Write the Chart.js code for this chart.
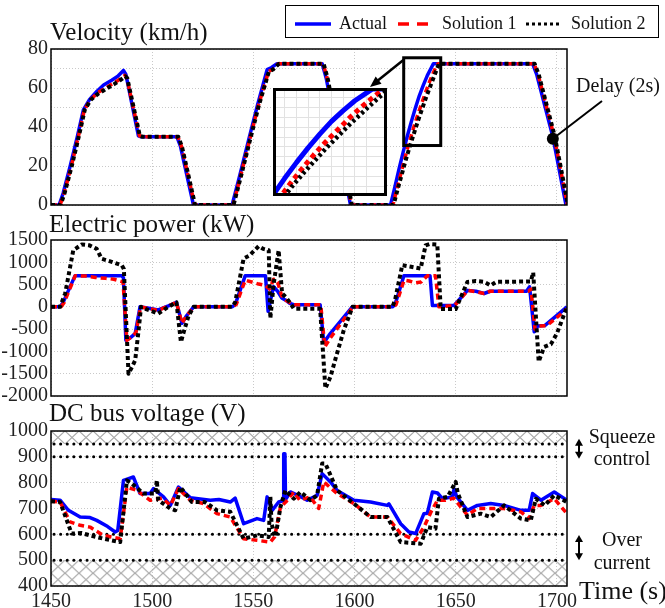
<!DOCTYPE html>
<html>
<head>
<meta charset="utf-8">
<script src="https://cdn.jsdelivr.net/npm/chart.js@4.4.1/dist/chart.umd.min.js"></script>
<style>
  body { margin: 0; background: #fff; }
  #wrap { position: relative; width: 665px; height: 608px; overflow: hidden;
          font-family: 'Liberation Serif', 'Times New Roman', serif; color: #111; }
  canvas { position: absolute; left: 0; }
  .lbl { position: absolute; white-space: nowrap; line-height: 1; }
  #legend { position: absolute; left: 285px; top: 5px; width: 372px; height: 31px;
            border: 1.5px solid #000; background: #fff; }
  #legend svg, #legend span { position: absolute; }
  #legend span { font-size: 18px; line-height: 18px; top: 8px; white-space: nowrap; }
</style>
</head>
<body>
<div id="wrap">
  <canvas id="velChart" width="665" height="215" style="top:0"></canvas>
  <canvas id="powChart" width="665" height="190" style="top:215px"></canvas>
  <canvas id="voltChart" width="665" height="203" style="top:405px"></canvas>
  <canvas id="zoomChart" width="114" height="108" style="left:273px;top:88px"></canvas>

  <div class="lbl" style="left:50px;top:19px;font-size:25px">Velocity (km/h)</div>
  <div class="lbl" style="left:49px;top:211px;font-size:25px">Electric power (kW)</div>
  <div class="lbl" style="left:49px;top:400px;font-size:25px">DC bus voltage (V)</div>
  <div class="lbl" style="left:576px;top:75px;font-size:20px">Delay (2s)</div>
  <div class="lbl" style="left:577px;top:425px;width:90px;text-align:center;font-size:20px;line-height:22px">Squeeze<br>control</div>
  <div class="lbl" style="left:577px;top:528px;width:90px;text-align:center;font-size:20px;line-height:23px">Over<br>current</div>
  <div class="lbl" style="left:579px;top:578px;font-size:26px">Time (s)</div>

  <div id="legend">
    <svg style="left:8px;top:15px" width="38" height="6"><line x1="1" y1="3" x2="37" y2="3" stroke="#0000ff" stroke-width="3.5"/></svg>
    <span style="left:53px">Actual</span>
    <svg style="left:111px;top:15px" width="38" height="6"><line x1="1" y1="3" x2="37" y2="3" stroke="#ff0000" stroke-width="3.5" stroke-dasharray="11,8"/></svg>
    <span style="left:156px">Solution 1</span>
    <svg style="left:239px;top:15px" width="38" height="6"><line x1="1" y1="3" x2="37" y2="3" stroke="#000" stroke-width="3" stroke-dasharray="3,3"/></svg>
    <span style="left:285px">Solution 2</span>
  </div>
</div>

<script>
// ---- data ----
const xTicks = [1450, 1500, 1550, 1600, 1650, 1700];
const xRange = [1450, 1705];

const velGrid = [0, 10, 20, 30, 40, 50, 60, 70, 80];
const velTicks = [0, 20, 40, 60, 80];
const powTicks = [-2000, -1500, -1000, -500, 0, 500, 1000, 1500];
const voltTicks = [400, 500, 600, 700, 800, 900, 1000];
const voltLimits = [500, 600, 900, 950];
const voltBands = [[950, 1000], [400, 500]];
const arrowSpans = [[970, 893], [597, 500]];

// velocity (km/h)
const velActualT = [1450, 1454, 1456, 1459.4, 1463, 1466, 1469, 1472.6, 1476, 1480, 1483, 1485.8, 1487, 1493.2, 1494.5, 1512.2, 1514, 1520.4, 1539.5, 1543, 1547.7, 1552, 1556.8, 1559, 1561.7, 1584, 1586, 1598, 1599, 1617.8, 1620, 1622, 1624, 1626, 1628, 1630, 1632, 1634, 1636, 1638, 1639, 1688, 1690, 1698, 1704.5, 1705.5];
const velActual  = [0, 0, 6, 19.7, 35, 48.8, 54, 58.2, 61.5, 64, 66, 69, 67, 35.5, 35, 35, 30, 0, 0, 14, 33.5, 51, 69.4, 70.5, 72.5, 72.5, 65, 0, 0, 0, 9.5, 18.5, 27, 35, 42.5, 49.5, 56, 61.5, 66.5, 70.5, 72.5, 72.5, 67, 35, 0, 0];
const velSol1T = [1450, 1454.5, 1456.5, 1460, 1463.5, 1466.5, 1469.5, 1473, 1477, 1481, 1484, 1486.5, 1487.5, 1493.7, 1495, 1512.7, 1514.5, 1521, 1540, 1543.5, 1548.2, 1552.5, 1557.5, 1559.5, 1562.5, 1584.5, 1586.5, 1598.5, 1619, 1621, 1623, 1625, 1627, 1629, 1631, 1633, 1635, 1637, 1639, 1640.5, 1641.3, 1688.7, 1690.7, 1698.7, 1705.2];
const velSol1  = [0, 0, 6, 19.7, 35, 48.8, 54, 57.5, 60, 62.5, 64.5, 66.5, 65, 35.5, 35, 35, 30, 0, 0, 14, 33.5, 51, 68.5, 69.5, 72.5, 72.5, 65, 0, 0, 8.5, 16.5, 24.5, 32, 39, 45.5, 51.5, 57.5, 63, 68, 71.5, 72.5, 72.5, 67, 35, 0];
const velSol2T = [1450, 1454.7, 1456.7, 1460.2, 1463.7, 1466.7, 1469.7, 1473.2, 1477.2, 1481.2, 1484.2, 1486.7, 1487.7, 1493.9, 1495.2, 1512.9, 1514.7, 1521.2, 1540.2, 1543.7, 1548.4, 1552.7, 1557.7, 1559.7, 1562.7, 1584.7, 1586.7, 1598.7, 1619.3, 1621.3, 1623.3, 1625.3, 1627.3, 1629.3, 1631.3, 1633.3, 1635.3, 1637.3, 1639.3, 1641, 1641.8, 1689, 1691, 1699, 1705.5];
const velSol2  = [0, 0, 6, 19.7, 35, 48.8, 54, 57, 59.5, 62, 64, 66, 65, 35.5, 35, 35, 30, 0, 0, 14, 33.5, 51, 68.5, 69.5, 72.5, 72.5, 65, 0, 0, 8, 15.5, 23, 30, 36.5, 43, 49, 55, 60.5, 66, 70.5, 72.5, 72.5, 67, 35, 0];

// electric power (kW)
const powActualT = [1450, 1454.5, 1456, 1461.9, 1485, 1485.8, 1487, 1489, 1491.6, 1494, 1497, 1503, 1508, 1512, 1514.7, 1517, 1520.5, 1539.5, 1541, 1546, 1556, 1557.3, 1558.5, 1560, 1562, 1564, 1566, 1568, 1570, 1583, 1584.8, 1588, 1598.9, 1618.7, 1620, 1624.4, 1637.3, 1638.5, 1649.2, 1655.8, 1660, 1664, 1667, 1685, 1686.5, 1688.8, 1690.5, 1694, 1705];
const powActual  = [0, 0, 100, 700, 700, 650, -750, -700, -600, 0, -20, -70, 20, 100, -370, -200, 0, 0, 50, 700, 700, -100, 150, 450, 350, 200, 150, 80, 50, 50, -800, -600, 0, 0, 50, 700, 700, 30, 30, 370, 350, 300, 350, 350, 450, -560, -430, -420, 0];
const powSol1T = [1450, 1455, 1456.5, 1462, 1467, 1472, 1477, 1481, 1484, 1485.6, 1487.5, 1489, 1492, 1494.3, 1503, 1512, 1514.7, 1517, 1520.7, 1539.7, 1541.5, 1546, 1552, 1556, 1558, 1560, 1562, 1564, 1566, 1568, 1570, 1583.3, 1585.3, 1588, 1599.3, 1619, 1620.5, 1624.5, 1627, 1630, 1633, 1636, 1640, 1641.7, 1649.5, 1656, 1660, 1664, 1667, 1686, 1687.2, 1689.2, 1691, 1695, 1705];
const powSol1  = [0, 0, 100, 700, 690, 660, 640, 620, 580, 560, -750, -700, -580, 0, -80, 100, -370, -200, 0, 0, 50, 600, 520, 480, 400, 620, 550, 250, 150, 100, 50, 50, -900, -700, 0, 0, 50, 600, 580, 540, 560, 700, 700, 0, 30, 370, 340, 300, 350, 350, 400, -500, -430, -420, -50];
const powSol2T = [1450, 1454.5, 1457, 1461, 1465.2, 1469, 1472.6, 1475, 1480, 1485, 1486, 1488.3, 1490, 1491.6, 1493.3, 1494.5, 1497, 1503, 1508, 1512, 1514.2, 1516, 1518, 1520.5, 1539.5, 1541, 1545.2, 1548, 1552.6, 1555, 1557.6, 1558.4, 1560, 1562.5, 1564.2, 1566, 1568, 1570, 1583, 1585.6, 1588.1, 1591, 1594.7, 1599, 1618.7, 1620, 1623.6, 1628, 1632.7, 1635.1, 1637, 1640.9, 1642.6, 1650, 1655.8, 1660, 1664, 1667.3, 1670, 1687.1, 1688.3, 1691, 1693.7, 1697, 1700, 1705];
const powSol2  = [0, 0, 300, 1270, 1400, 1380, 1300, 1080, 1010, 930, 850, -1500, -1350, -1200, -520, 0, -50, -150, 0, 100, -790, -500, -200, 0, 0, 100, 1085, 1150, 1360, 1300, 1270, -260, 500, 1270, 300, 220, 100, -40, -40, -1830, -1570, -1100, -520, 0, 0, 150, 935, 900, 860, 1380, 1410, 1400, -50, -50, 560, 580, 560, 480, 560, 570, 770, -1230, -900, -840, -600, 0];

// DC bus voltage (V)
const voltActualT = [1450, 1454.5, 1458.6, 1464.4, 1469.3, 1472.6, 1478, 1481.7, 1483, 1485.8, 1488, 1490.7, 1494, 1499, 1500.6, 1505.6, 1509, 1513, 1518.8, 1528.7, 1533, 1538.6, 1541, 1545.2, 1551.8, 1555.1, 1556.8, 1559.3, 1562.5, 1564.8, 1565, 1565.6, 1565.9, 1568.3, 1572, 1576.6, 1581.5, 1584, 1588.1, 1591.4, 1599.7, 1607.9, 1616.2, 1617, 1622.8, 1626.9, 1630.2, 1634.3, 1636, 1638.5, 1641, 1643.4, 1648.4, 1649.2, 1650.5, 1655.8, 1660.7, 1667.3, 1673.9, 1682.2, 1686.3, 1688, 1692.1, 1698.7, 1705];
const voltActual  = [735, 732, 693, 667, 665, 654, 630, 609, 615, 809, 815, 822, 758, 758, 777, 745, 712, 783, 742, 732, 735, 725, 740, 641, 661, 654, 745, 693, 725, 730, 912, 912, 735, 764, 751, 732, 751, 835, 803, 770, 732, 725, 712, 718, 641, 609, 603, 680, 682, 764, 760, 738, 745, 777, 745, 693, 712, 719, 712, 693, 693, 758, 732, 764, 732];
const voltSol1T = [1450, 1454.5, 1459.4, 1464.4, 1469.3, 1475.9, 1484.2, 1487.5, 1492.4, 1499, 1505, 1509, 1513, 1518.8, 1525.4, 1532, 1538.6, 1545.2, 1551.8, 1558.4, 1560.5, 1563.4, 1566, 1570, 1573, 1578, 1582.3, 1584.8, 1591.4, 1599.7, 1607.9, 1616.2, 1622.8, 1630.2, 1634.3, 1638, 1641, 1645, 1649, 1655.8, 1660.7, 1667.3, 1673.9, 1682.2, 1686.3, 1688.8, 1692, 1698.7, 1705];
const voltSol1  = [728, 725, 648, 635, 628, 596, 583, 783, 770, 732, 740, 712, 777, 732, 719, 680, 667, 583, 577, 570, 590, 706, 725, 764, 732, 745, 700, 803, 758, 719, 667, 667, 603, 577, 628, 690, 732, 732, 740, 674, 700, 700, 700, 687, 661, 712, 712, 738, 680];
const voltSol2T = [1450, 1454.5, 1460.2, 1465, 1469.3, 1475.9, 1484.2, 1487.5, 1490, 1495.7, 1501.5, 1502.3, 1503, 1508.9, 1511.4, 1513.9, 1519.6, 1526, 1532, 1538.6, 1545.2, 1551.8, 1557.6, 1558.4, 1559, 1560.9, 1563.4, 1565.8, 1570, 1573.3, 1578.2, 1581.5, 1584, 1585.6, 1591.4, 1599.7, 1607.9, 1616.2, 1622.8, 1632.7, 1636, 1640, 1641.7, 1646, 1650, 1651, 1655.8, 1662.4, 1667.3, 1673.9, 1682.2, 1687.1, 1689.6, 1694, 1698.7, 1705];
const voltSol2  = [728, 725, 603, 605, 596, 583, 570, 809, 796, 758, 758, 809, 732, 700, 693, 783, 725, 725, 693, 687, 583, 596, 590, 745, 640, 590, 706, 770, 738, 764, 732, 751, 874, 874, 770, 719, 667, 667, 570, 564, 628, 622, 738, 745, 803, 760, 667, 680, 667, 712, 661, 654, 738, 712, 751, 725];

// zoomed inset window and the box marking it on the velocity plot
const zoomX = [1622, 1641.5];
const zoomY = [18, 73];
const zoomBox = [1624.3, 1642.6, 30.5, 75.5];
const delayPoint = [1698, 34];

// ---- helpers ----
const FONT = "'Liberation Serif', 'Times New Roman', serif";
const pts = (ts, vs) => ts.map((t, i) => ({ x: t, y: vs[i] }));

function series(tA, vA, t1, v1, t2, v2, w) {
  w = w || 3.5;
  const common = { pointRadius: 0, borderJoinStyle: 'round' };
  return [
    { ...common, label: 'Actual', data: pts(tA, vA), borderColor: '#0000ff', borderWidth: w, order: 3 },
    { ...common, label: 'Solution 1', data: pts(t1, v1), borderColor: '#ff0000', borderWidth: w, borderDash: [6, 4], order: 2 },
    { ...common, label: 'Solution 2', data: pts(t2, v2), borderColor: '#000000', borderWidth: w + 0.5, borderDash: [4, 3], order: 1 }
  ];
}

function makeOptions(cfg) {
  const gridStyle = { color: '#c9c9c9', lineWidth: 1, drawTicks: false };
  return {
    animation: false,
    responsive: false,
    devicePixelRatio: 1,
    layout: { padding: { top: cfg.padTop, right: 98, left: 0, bottom: 0 } },
    plugins: { legend: { display: false }, tooltip: { enabled: false } },
    scales: {
      x: {
        type: 'linear', min: xRange[0], max: xRange[1],
        afterBuildTicks: s => { s.ticks = xTicks.map(v => ({ value: v })); },
        afterFit: s => { s.height = cfg.xAxisH; s.paddingLeft = 0; s.paddingRight = 0; },
        grid: gridStyle,
        border: { display: false, dash: [1, 2] },
        ticks: { display: !!cfg.showX, autoSkip: false, maxRotation: 0, padding: 4,
                 color: '#222', font: { family: FONT, size: 20 }, callback: v => String(v) }
      },
      y: {
        type: 'linear', min: cfg.yMin, max: cfg.yMax,
        afterBuildTicks: s => { s.ticks = cfg.yGrid.map(v => ({ value: v })); },
        afterFit: s => { s.width = 51; s.paddingTop = 0; s.paddingBottom = 0; },
        grid: gridStyle,
        border: { display: false, dash: [1, 2] },
        ticks: { autoSkip: false, padding: 3, color: '#222', font: { family: FONT, size: 20 },
                 callback: v => cfg.yLabels.includes(v) ? String(v) : '' }
      }
    }
  };
}

function frame(chart) {
  const { ctx, chartArea: a } = chart;
  ctx.save();
  ctx.strokeStyle = '#000';
  ctx.lineWidth = 1.5;
  ctx.strokeRect(a.left, a.top, a.right - a.left, a.bottom - a.top);
  ctx.restore();
}

// ---- velocity ----
const velDecor = {
  id: 'velDecor',
  afterDraw(chart) {
    frame(chart);
    const { ctx, scales: { x, y } } = chart;
    ctx.save();
    ctx.strokeStyle = '#000';
    ctx.fillStyle = '#000';
    // box marking the zoomed region
    const bx0 = x.getPixelForValue(zoomBox[0]), bx1 = x.getPixelForValue(zoomBox[1]);
    const by0 = y.getPixelForValue(zoomBox[3]), by1 = y.getPixelForValue(zoomBox[2]);
    ctx.lineWidth = 3;
    ctx.strokeRect(bx0, by0, bx1 - bx0, by1 - by0);
    // arrow to the inset
    const sx = bx0, sy = by0 + 2, ex = 370, ey = 87;
    ctx.lineWidth = 2.5;
    ctx.beginPath(); ctx.moveTo(sx, sy); ctx.lineTo(ex + 6, ey - 5); ctx.stroke();
    const ang = Math.atan2(ey - sy, ex - sx);
    ctx.beginPath();
    ctx.moveTo(ex, ey);
    ctx.lineTo(ex - 12 * Math.cos(ang - 0.4), ey - 12 * Math.sin(ang - 0.4));
    ctx.lineTo(ex - 12 * Math.cos(ang + 0.4), ey - 12 * Math.sin(ang + 0.4));
    ctx.closePath(); ctx.fill();
    // delay marker
    const dx = x.getPixelForValue(delayPoint[0]), dy = y.getPixelForValue(delayPoint[1]);
    ctx.lineWidth = 2;
    ctx.beginPath(); ctx.moveTo(dx, dy); ctx.lineTo(602, 101); ctx.stroke();
    ctx.beginPath(); ctx.arc(dx, dy, 6, 0, Math.PI * 2); ctx.fill();
    ctx.restore();
  }
};

new Chart(document.getElementById('velChart'), {
  type: 'line',
  data: { datasets: series(velActualT, velActual, velSol1T, velSol1, velSol2T, velSol2) },
  options: makeOptions({ padTop: 49, xAxisH: 10, yMin: 0, yMax: 80, yGrid: velGrid, yLabels: velTicks }),
  plugins: [velDecor]
});

// ---- inset ----
const insetDecor = {
  id: 'insetDecor',
  beforeDraw(chart) {
    const { ctx, width, height } = chart;
    ctx.save(); ctx.fillStyle = '#fff'; ctx.fillRect(0, 0, width, height); ctx.restore();
  },
  afterDraw(chart) {
    const { ctx, width, height } = chart;
    ctx.save(); ctx.strokeStyle = '#000'; ctx.lineWidth = 3;
    ctx.strokeRect(1.5, 1.5, width - 3, height - 3); ctx.restore();
  }
};

const insetSeries = series(velActualT, velActual, velSol1T, velSol1, velSol2T, velSol2, 5);
insetSeries[1].borderDash = [5, 4];
insetSeries[2].borderDash = [3, 3];
insetSeries[2].borderWidth = 4.5;

new Chart(document.getElementById('zoomChart'), {
  type: 'line',
  data: { datasets: insetSeries },
  options: {
    animation: false, responsive: false, devicePixelRatio: 1,
    layout: { padding: 0 },
    plugins: { legend: { display: false }, tooltip: { enabled: false } },
    scales: {
      x: { type: 'linear', min: zoomX[0], max: zoomX[1],
           ticks: { display: false, stepSize: 2 },
           grid: { color: '#e2e2e2', drawTicks: false }, border: { display: false },
           afterFit: s => { s.height = 0; s.paddingLeft = 0; s.paddingRight = 0; } },
      y: { type: 'linear', min: zoomY[0], max: zoomY[1],
           ticks: { display: false, stepSize: 5 },
           grid: { color: '#e2e2e2', drawTicks: false }, border: { display: false },
           afterFit: s => { s.width = 0; s.paddingTop = 0; s.paddingBottom = 0; } }
    }
  },
  plugins: [insetDecor]
});

// ---- power ----
new Chart(document.getElementById('powChart'), {
  type: 'line',
  data: { datasets: series(powActualT, powActual, powSol1T, powSol1, powSol2T, powSol2) },
  options: makeOptions({ padTop: 25, xAxisH: 9, yMin: -2000, yMax: 1500, yGrid: powTicks, yLabels: powTicks }),
  plugins: [{ id: 'powFrame', afterDraw: frame }]
});

// ---- voltage ----
function hatchPattern(ctx) {
  const c = document.createElement('canvas');
  c.width = 14; c.height = 13;
  const p = c.getContext('2d');
  p.strokeStyle = '#a9a9a9';
  p.lineWidth = 1.2;
  p.beginPath();
  p.moveTo(0, 0); p.lineTo(14, 13);
  p.moveTo(14, 0); p.lineTo(0, 13);
  p.stroke();
  return ctx.createPattern(c, 'repeat');
}

const voltDecor = {
  id: 'voltDecor',
  beforeDatasetsDraw(chart) {
    const { ctx, chartArea: a, scales: { y } } = chart;
    ctx.save();
    const pat = hatchPattern(ctx);
    voltBands.forEach(([lo, hi]) => {
      const top = y.getPixelForValue(hi), bot = y.getPixelForValue(lo);
      ctx.save();
      ctx.translate(a.left, top);
      ctx.fillStyle = pat;
      ctx.fillRect(0, 0, a.right - a.left, bot - top);
      ctx.restore();
    });
    ctx.strokeStyle = '#000';
    ctx.lineWidth = 3;
    ctx.lineCap = 'round';
    ctx.setLineDash([0.1, 6.5]);
    voltLimits.forEach(v => {
      const py = y.getPixelForValue(v);
      ctx.beginPath(); ctx.moveTo(a.left + 3, py); ctx.lineTo(a.right - 2, py); ctx.stroke();
    });
    ctx.restore();
  },
  afterDraw(chart) {
    frame(chart);
    const { ctx, scales: { y } } = chart;
    ctx.save();
    ctx.strokeStyle = '#000'; ctx.fillStyle = '#000'; ctx.lineWidth = 2;
    const ax = 579;
    arrowSpans.forEach(([hi, lo]) => {
      const t = y.getPixelForValue(hi), b = y.getPixelForValue(lo);
      ctx.beginPath(); ctx.moveTo(ax, t + 4); ctx.lineTo(ax, b - 4); ctx.stroke();
      ctx.beginPath(); ctx.moveTo(ax, t); ctx.lineTo(ax - 4, t + 7); ctx.lineTo(ax + 4, t + 7); ctx.closePath(); ctx.fill();
      ctx.beginPath(); ctx.moveTo(ax, b); ctx.lineTo(ax - 4, b - 7); ctx.lineTo(ax + 4, b - 7); ctx.closePath(); ctx.fill();
    });
    ctx.restore();
  }
};

new Chart(document.getElementById('voltChart'), {
  type: 'line',
  data: { datasets: series(voltActualT, voltActual, voltSol1T, voltSol1, voltSol2T, voltSol2) },
  options: makeOptions({ padTop: 26, xAxisH: 22, showX: true, yMin: 400, yMax: 1000, yGrid: voltTicks, yLabels: voltTicks }),
  plugins: [voltDecor]
});
</script>
</body>
</html>
